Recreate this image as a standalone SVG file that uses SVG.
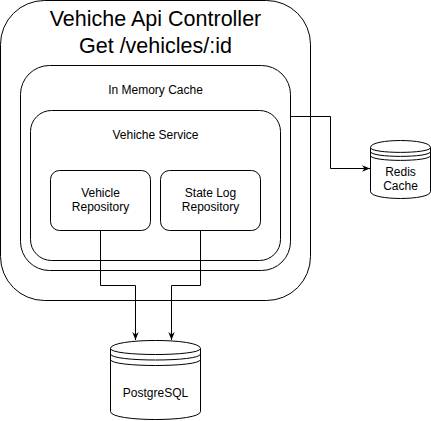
<svg xmlns="http://www.w3.org/2000/svg" width="431" height="421" viewBox="0 0 431 421">
<style>
.box{fill:#fff;stroke:#000;stroke-width:1}
.ln{fill:none;stroke:#000;stroke-width:1}
.t{font-family:"Liberation Sans",Arial,Helvetica,sans-serif;fill:#000;text-anchor:middle}
.s12{font-size:12px}
.s21{font-size:21.5px}
</style>
<defs>
<marker id="arr" viewBox="0 0 10 8" refX="10" refY="4" markerWidth="8" markerHeight="7" markerUnits="userSpaceOnUse" orient="auto">
<path d="M0,0 L10,4 L0,8 L3,4 Z" fill="#000"/>
</marker>
</defs>
<rect width="431" height="421" fill="#fff"/>
<g id="api-controller">
<rect class="box" x="0.5" y="0.5" width="310" height="300" rx="44" ry="44"/>
<text class="t s21" x="155.5" y="26">Vehiche Api Controller</text>
<text class="t s21" x="155.5" y="52.7">Get /vehicles/:id</text>
</g>
<g id="in-memory-cache">
<rect class="box" x="20.5" y="65.5" width="270" height="205" rx="29" ry="29"/>
<text class="t s12" x="155.5" y="94">In Memory Cache</text>
</g>
<g id="vehiche-service">
<rect class="box" x="30.5" y="110.5" width="250" height="150" rx="21" ry="21"/>
<text class="t s12" x="155.5" y="139">Vehiche Service</text>
</g>
<g id="vehicle-repository">
<rect class="box" x="50.5" y="170.5" width="100" height="60" rx="9" ry="9"/>
<text class="t s12" x="100.5" y="197">Vehicle</text>
<text class="t s12" x="100.5" y="211.4">Repository</text>
</g>
<g id="state-log-repository">
<rect class="box" x="160.5" y="170.5" width="100" height="60" rx="9" ry="9"/>
<text class="t s12" x="210.5" y="197">State Log</text>
<text class="t s12" x="210.5" y="211.4">Repository</text>
</g>
<g id="redis-cache">
<path class="box" d="M370.5,147.5 C370.5,138.2 430.5,138.2 430.5,147.5 L430.5,191.5 C430.5,200.8 370.5,200.8 370.5,191.5 Z"/>
<path class="ln" d="M370.5,147.5 C370.5,154 430.5,154 430.5,147.5 M370.5,151.5 C370.5,158 430.5,158 430.5,151.5 M370.5,155.5 C370.5,162 430.5,162 430.5,155.5"/>
<text class="t s12" x="400.5" y="175.5">Redis</text>
<text class="t s12" x="400.5" y="190">Cache</text>
</g>
<g id="postgresql">
<path class="box" d="M110.5,348.5 C110.5,337.8 200.5,337.8 200.5,348.5 L200.5,411.5 C200.5,422.2 110.5,422.2 110.5,411.5 Z"/>
<path class="ln" d="M110.5,348.5 C110.5,356.5 200.5,356.5 200.5,348.5 M110.5,354 C110.5,362 200.5,362 200.5,354 M110.5,359.5 C110.5,367.5 200.5,367.5 200.5,359.5"/>
<text class="t s12" x="155.5" y="397">PostgreSQL</text>
</g>
<g id="connectors">
<polyline class="ln" points="290.5,116.5 330.5,116.5 330.5,168.5 370,168.5" marker-end="url(#arr)"/>
<polyline class="ln" points="100.5,230.5 100.5,285.5 135.5,285.5 135.5,340" marker-end="url(#arr)"/>
<polyline class="ln" points="200.5,230.5 200.5,285.5 171.5,285.5 171.5,340" marker-end="url(#arr)"/>
</g>
</svg>
